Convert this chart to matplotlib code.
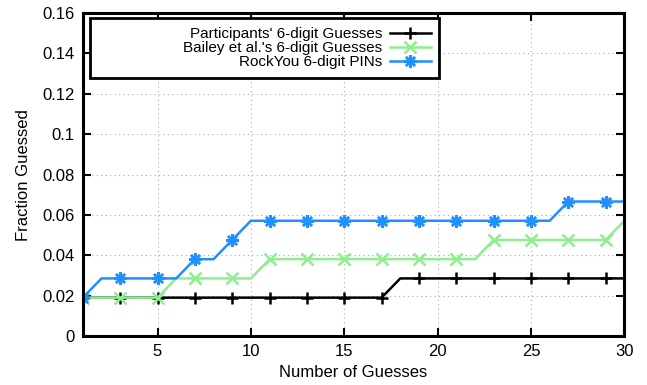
import matplotlib
matplotlib.use('Agg')
import matplotlib.pyplot as plt
from matplotlib.patches import Rectangle


# Data (fractions are counts out of 105)
guesses = list(range(1, 31))
participants = [2] * 17 + [3] * 13
bailey = [2] * 5 + [3] * 5 + [4] * 12 + [5] * 7 + [6]
rockyou = [2] + [3] * 5 + [4] * 2 + [5] + [6] * 17 + [7] * 4
total = 105

labels = [
    "Participants' 6-digit Guesses",
    "Bailey et al.'s 6-digit Guesses",
    "RockYou 6-digit PINs",
]
colors = ['black', '#90ee90', '#1e90ff']
markers = ['+', 'x', (8, 2, 0)]

plt.rcParams['font.family'] = ['Liberation Sans', 'DejaVu Sans']

fig = plt.figure(figsize=(6.47, 3.85), dpi=100)
ax = fig.add_axes([0.128, 0.127, 0.837, 0.839])

for series, label, c, m in zip([participants, bailey, rockyou], labels, colors, markers):
    y = [v / total for v in series]
    ax.plot(guesses, y, color=c, lw=1.8, label=label)
    # markers only on every other point
    ax.plot(guesses[::2], y[::2], ls='none', marker=m, color=c, ms=9, mew=1.8)

# legend proxies with marker
handles = [plt.Line2D([], [], color=c, lw=1.8, marker=m, ms=9, mew=1.8)
           for c, m in zip(colors, markers)]

ax.set_xlim(1, 30)
ax.set_ylim(0, 0.16)
ax.set_xticks([5, 10, 15, 20, 25, 30])
ax.set_yticks([0, 0.02, 0.04, 0.06, 0.08, 0.1, 0.12, 0.14, 0.16])
ax.set_yticklabels(['0', '0.02', '0.04', '0.06', '0.08', '0.1', '0.12', '0.14', '0.16'])
ax.grid(True, ls=(0, (1, 3)), color='#aaaaaa', lw=0.8)
ax.tick_params(direction='in', top=True, right=True, labelsize=12, length=6, width=1.5, pad=6)
for s in ax.spines.values():
    s.set_linewidth(2.2)

ax.set_xlabel('Number of Guesses', fontsize=12, labelpad=4)
ax.set_ylabel('Fraction Guessed', fontsize=12, labelpad=8)

# gnuplot-style key: wide box, entries pushed to the right
box = Rectangle((0.013, 0.799), 0.645, 0.186, transform=ax.transAxes,
                facecolor='white', edgecolor='black', lw=2, zorder=4)
ax.add_patch(box)
leg = ax.legend(handles, labels, loc='center right', bbox_to_anchor=(0.643, 0.892),
                borderaxespad=0, borderpad=0, markerfirst=False, fontsize=11,
                handlelength=2.7, handletextpad=0.5, labelspacing=0.0, frameon=False)
leg.set_zorder(5)
for col in leg._legend_box._children[-1]._children:
    col.align = 'right'

fig.savefig('out.png', dpi=100)
